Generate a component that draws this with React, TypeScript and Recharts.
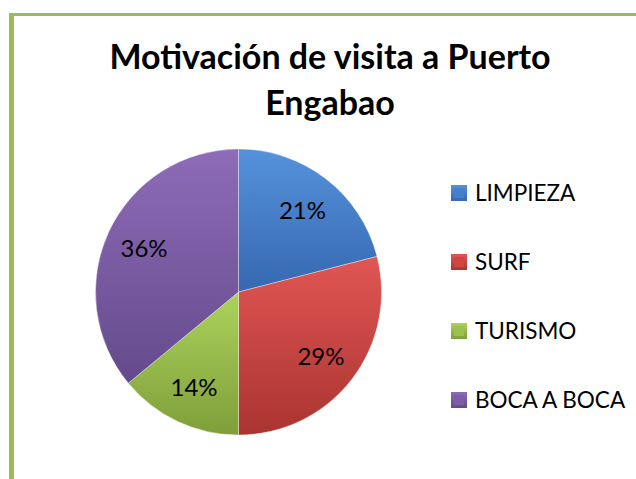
import * as React from 'react';
import { PieChart, Pie, Cell, Legend } from 'recharts';

const categories = ['LIMPIEZA', 'SURF', 'TURISMO', 'BOCA A BOCA'];
const shares = [21, 29, 14, 36];
const colors = ['#4580cc', '#d04442', '#9bc24c', '#7e5ca8'];
const lightColors = ['#5592dc', '#e05654', '#acd35c', '#8e6cb8'];
const darkColors = ['#3568b0', '#aa3430', '#7f9e3a', '#644a8c'];

const data = categories.map((name, i) => ({ name, value: shares[i] }));

const FONT = 'Lato, "Open Sans", sans-serif';
const RADIAN = Math.PI / 180;

const renderLabel = (props: any) => {
    const { cx, cy, midAngle, outerRadius, value } = props;
    const r = outerRadius * 0.73;
    const x = cx + r * Math.cos(-midAngle * RADIAN);
    const y = cy + r * Math.sin(-midAngle * RADIAN);
    return (
        <text
            x={x}
            y={y}
            fill="#000"
            fontSize={24}
            fontFamily={FONT}
            textAnchor="middle"
            dominantBaseline="central"
        >
            {`${value}%`}
        </text>
    );
};

const renderLegend = () => (
    <div style={{ fontFamily: FONT, fontSize: 22.5, color: '#000' }}>
        {data.map((entry, i) => (
            <div
                key={entry.name}
                style={{ display: 'flex', alignItems: 'center', height: 69 }}
            >
                <svg width={16} height={16} style={{ marginRight: 8 }}>
                    <defs>
                        <linearGradient id={`lg-${i}`} x1="0" y1="0" x2="0" y2="1">
                            <stop offset="0%" stopColor={lightColors[i]} />
                            <stop offset="100%" stopColor={darkColors[i]} />
                        </linearGradient>
                    </defs>
                    <rect x={0} y={0} width={16} height={16} fill={`url(#lg-${i})`} />
                    <rect x={3} y={3} width={10} height={10} fill={colors[i]} />
                </svg>
                <span>{entry.name}</span>
            </div>
        ))}
    </div>
);

const App = () => {
    return (
        <div
            style={{
                position: 'absolute',
                left: 0,
                top: 0,
                width: 636,
                height: 479,
                background: '#fff',
                overflow: 'hidden'
            }}
        >
            <div
                style={{
                    position: 'absolute',
                    left: 9,
                    top: 13,
                    right: 0,
                    height: 3,
                    background: '#9bbb59'
                }}
            />
            <div
                style={{
                    position: 'absolute',
                    left: 9,
                    top: 13,
                    bottom: 0,
                    width: 5,
                    background: '#9bbb59'
                }}
            />
            <div
                style={{
                    position: 'absolute',
                    left: 14,
                    top: 33,
                    width: 632,
                    textAlign: 'center',
                    fontFamily: FONT,
                    fontWeight: 'bold',
                    fontSize: 34,
                    lineHeight: '46px',
                    color: '#000'
                }}
            >
                Motivación de visita a Puerto
                <br />
                Engabao
            </div>
            <div style={{ position: 'absolute', left: 0, top: 0 }}>
                <PieChart
                    width={636}
                    height={479}
                    margin={{ top: 0, right: 0, bottom: 0, left: 0 }}
                >
                    <defs>
                        {colors.map((c, i) => (
                            <linearGradient key={c} id={`pg-${i}`} x1="0" y1="0" x2="0" y2="1">
                                <stop offset="0%" stopColor={lightColors[i]} />
                                <stop offset="100%" stopColor={darkColors[i]} />
                            </linearGradient>
                        ))}
                    </defs>
                    <Pie
                        data={data}
                        dataKey="value"
                        nameKey="name"
                        cx={238.5}
                        cy={292}
                        outerRadius={143}
                        startAngle={90}
                        endAngle={-270}
                        stroke="rgba(255,255,255,0.35)"
                        strokeWidth={1}
                        label={renderLabel}
                        labelLine={false}
                        isAnimationActive={false}
                    >
                        {data.map((entry, i) => (
                            <Cell key={`cell-${i}`} fill={`url(#pg-${i})`} />
                        ))}
                    </Pie>
                    <Legend
                        layout="vertical"
                        content={renderLegend}
                        wrapperStyle={{ position: 'absolute', left: 451, top: 158, width: 185 }}
                    />
                </PieChart>
            </div>
        </div>
    );
};

export default App;
